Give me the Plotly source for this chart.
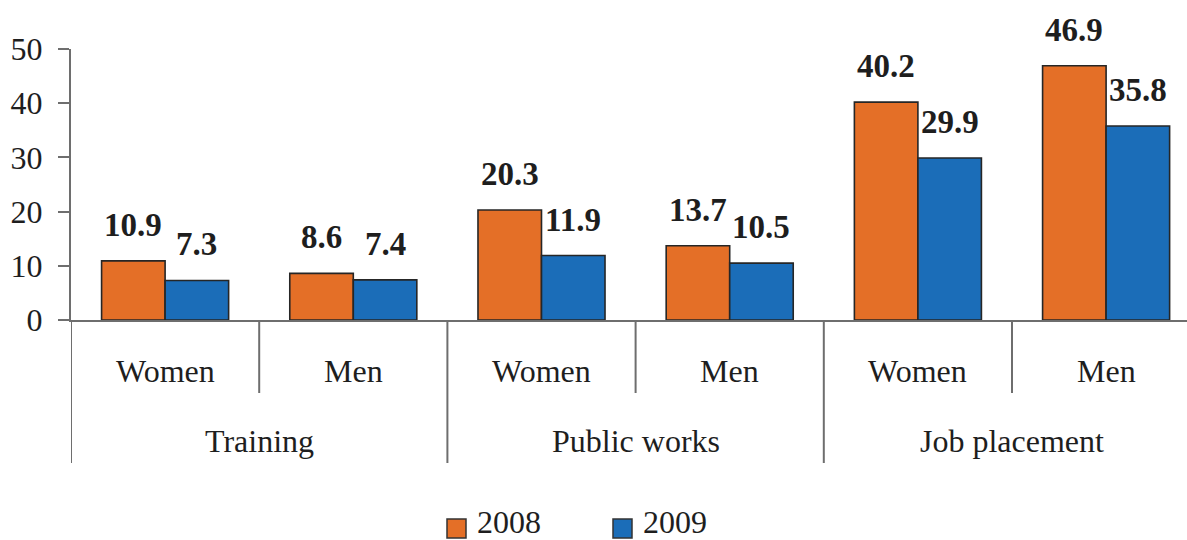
import plotly.graph_objects as go

# Programme participation by sex, 2008 vs 2009
programmes = ["Training", "Public works", "Job placement"]
sexes = ["Women", "Men"]
categories = [f"{p} - {s}" for p in programmes for s in sexes]
values_2008 = [10.9, 8.6, 20.3, 13.7, 40.2, 46.9]
values_2009 = [7.3, 7.4, 11.9, 10.5, 29.9, 35.8]
series_names = ["2008", "2009"]
y_ticks = [0, 10, 20, 30, 40, 50]

ORANGE = "#E46F27"
BLUE = "#1B6DB8"
EDGE = "#262626"
AXIS = "#6E6E6E"
FONT = "Liberation Serif, Times New Roman, serif"

W, H = 1187, 540
ML, MR, MT, MB = 71, 0, 49, 220
plot_w = W - ML - MR
plot_h = H - MT - MB
group_px = 188.2
x_pos = list(range(len(categories)))
x_max = -0.5 + plot_w / group_px


def px_x(px):
    return (px - ML) / plot_w


def px_y(py):
    return (H - MB - py) / plot_h


fig = go.Figure()
for name, vals, col in [(series_names[0], values_2008, ORANGE),
                        (series_names[1], values_2009, BLUE)]:
    fig.add_trace(go.Bar(
        x=x_pos, y=vals, name=name, marker_color=col,
        marker_line_color=EDGE, marker_line_width=1.6,
        showlegend=False,
    ))

annotations = []
shapes = []

# value labels above each bar
bar_offset = (1 - 0.325) / 4
for vals, sign in [(values_2008, -1), (values_2009, 1)]:
    for i, v in enumerate(vals):
        annotations.append(dict(
            x=i + sign * bar_offset, y=v, xref="x", yref="y",
            text=f"<b>{v:.1f}</b>", showarrow=False,
            yanchor="bottom", yshift=16,
            font=dict(family=FONT, size=33, color="#1E1E1E"),
        ))

# inner category labels and dividers
for i, cat in enumerate(categories):
    annotations.append(dict(
        x=i, y=px_y(371), xref="x", yref="paper", text=cat.split(" - ")[1],
        showarrow=False, yanchor="middle",
        font=dict(family=FONT, size=32, color="#1E1E1E"),
    ))
for g, prog in enumerate(programmes):
    annotations.append(dict(
        x=2 * g + 0.5, y=px_y(441), xref="x", yref="paper", text=prog,
        showarrow=False, yanchor="middle",
        font=dict(family=FONT, size=32, color="#1E1E1E"),
    ))
    shapes.append(dict(type="line", xref="x", yref="paper",
                       x0=2 * g - 0.5, x1=2 * g - 0.5,
                       y0=0, y1=px_y(463),
                       line=dict(color=AXIS, width=2)))
    shapes.append(dict(type="line", xref="x", yref="paper",
                       x0=2 * g + 0.5, x1=2 * g + 0.5,
                       y0=0, y1=px_y(393),
                       line=dict(color=AXIS, width=2)))

# legend
for name, col, sx in [(series_names[0], ORANGE, 447), (series_names[1], BLUE, 613)]:
    shapes.append(dict(type="rect", xref="paper", yref="paper",
                       x0=px_x(sx), x1=px_x(sx + 19),
                       y0=px_y(538), y1=px_y(519),
                       fillcolor=col, line=dict(color="#333333", width=1.5)))
    annotations.append(dict(
        x=px_x(sx + 28), y=px_y(522), xref="paper", yref="paper",
        text=name, showarrow=False, xanchor="left", yanchor="middle",
        font=dict(family=FONT, size=32, color="#1E1E1E"),
    ))

fig.update_layout(
    width=W, height=H,
    margin=dict(l=ML, r=MR, t=MT, b=MB),
    plot_bgcolor="white", paper_bgcolor="white",
    barmode="group", bargap=0.325, bargroupgap=0,
    annotations=annotations, shapes=shapes,
    xaxis=dict(range=[-0.5, x_max], showticklabels=False, ticks="",
               showgrid=False, zeroline=False,
               showline=True, linecolor=AXIS, linewidth=2),
    yaxis=dict(range=[0, 50], tickvals=y_ticks, showgrid=False,
               zeroline=False, showline=True, linecolor=AXIS, linewidth=2,
               ticks="outside", ticklen=11, tickwidth=2, tickcolor=AXIS,
               ticklabelstandoff=9,
               tickfont=dict(family=FONT, size=32, color="#1E1E1E")),
)

fig.write_html("out.html")
